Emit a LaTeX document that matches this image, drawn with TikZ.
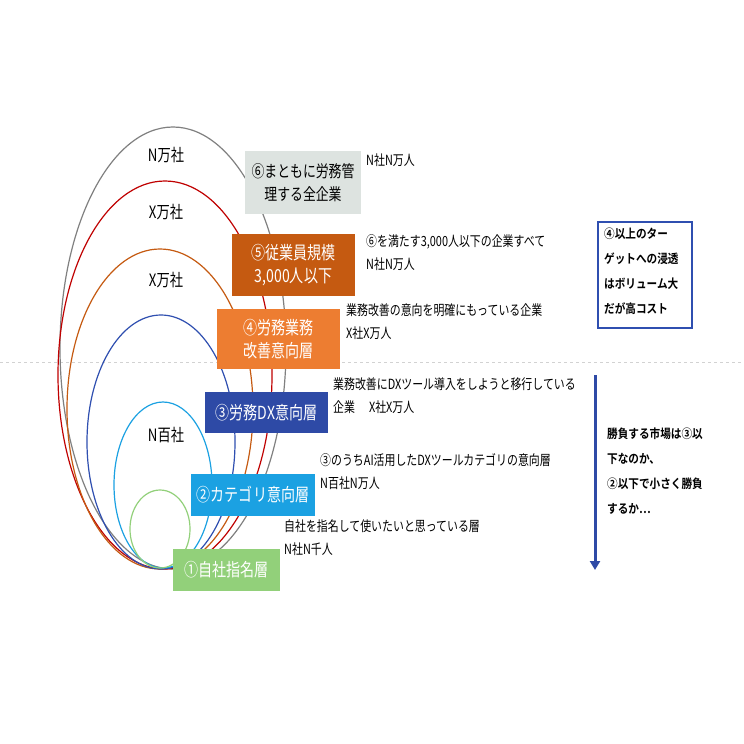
\documentclass[tikz,border=0pt]{standalone}
\usepackage{fontspec}
\setmainfont{Noto Sans CJK JP}[FakeStretch=0.78]
\newfontfamily\bfj{Noto Sans CJK JP Bold}[FakeStretch=0.85]
\usetikzlibrary{arrows.meta}
\definecolor{cgray}{HTML}{808080}
\definecolor{cred}{HTML}{C00000}
\definecolor{corg}{HTML}{C55A11}
\definecolor{cblue}{HTML}{2F4FB0}
\definecolor{clb}{HTML}{1BA1E2}
\definecolor{cgr}{HTML}{92D07A}
\definecolor{b6}{HTML}{DDE3E0}
\definecolor{b5}{HTML}{C55A11}
\definecolor{b4}{HTML}{ED7D31}
\definecolor{b3}{HTML}{2E4AA6}
\definecolor{b2}{HTML}{1BA1E2}
\definecolor{b1}{HTML}{92D07A}
\begin{document}
\begin{tikzpicture}[x=1pt,y=-1pt,
 lay/.style={draw=none,inner sep=0pt,align=center,font=\fontsize{18}{23}\selectfont,text=white},
 desc/.style={anchor=north west,inner sep=0pt,align=left,font=\fontsize{14}{23}\selectfont},
 cnt/.style={inner sep=0pt,font=\fontsize{17}{18}\selectfont}]
\useasboundingbox (0,0) rectangle (744,744);
\fill[white] (0,0) rectangle (744,744);
\draw[gray!35,dashed,line width=1pt] (0,362) -- (744,362);
\draw[cgray,line width=1.2pt] (173,348) ellipse [x radius=113,y radius=221];
\draw[cred,line width=1.2pt] (165,375) ellipse [x radius=107,y radius=194];
\draw[corg,line width=1.2pt] (160,409) ellipse [x radius=93,y radius=160];
\draw[cblue,line width=1.2pt] (161,442) ellipse [x radius=74,y radius=127];
\draw[clb,line width=1.2pt] (163,485) ellipse [x radius=49,y radius=83];
\draw[cgr,line width=1.2pt] (160,529) ellipse [x radius=30,y radius=39];
\node[cnt] (c1) at (166,155) {N万社};
\node[cnt] (c2) at (166,212) {X万社};
\node[cnt] (c3) at (166,280) {X万社};
\node[cnt] (c4) at (166,435) {N百社};
\fill[b6] (245,151) rectangle (361,214);
\node[lay,text=black,font=\fontsize{16.5}{23}\selectfont] (l6) at (303,182.5) {⑥まともに労務管\\理する全企業};
\fill[b5] (232,234) rectangle (355,296);
\node[lay] (l5) at (293.5,265) {⑤従業員規模\\3,000人以下};
\fill[b4] (217,309) rectangle (340,369);
\node[lay] (l4) at (278.5,339) {④労務業務\\改善意向層};
\fill[b3] (205,392) rectangle (328,433);
\node[lay] (l3) at (266.5,412.5) {③労務DX意向層};
\fill[b2] (191,474) rectangle (315,516);
\node[lay] (l2) at (253,495) {②カテゴリ意向層};
\fill[b1] (173,549) rectangle (280,591);
\node[lay] (l1) at (226.5,570) {①自社指名層};
\node[desc] (d6) at (366,154) {N社N万人};
\node[desc] (d5) at (366,234) {⑥を満たす3,000人以下の企業すべて\\N社N万人};
\node[desc] (d4) at (346,303) {業務改善の意向を明確にもっている企業\\X社X万人};
\node[desc] (d3) at (333,378) {業務改善にDXツール導入をしようと移行している\\企業\quad X社X万人};
\node[desc] (d2) at (320,453) {③のうちAI活用したDXツールカテゴリの意向層\\N百社N万人};
\node[desc] (d1) at (284,519) {自社を指名して使いたいと思っている層\\N社N千人};
\draw[cblue,line width=1.3pt] (598,222) rectangle (692,328);
\node[anchor=north west,inner sep=0pt,align=left,font=\bfj\fontsize{12.5}{25}\selectfont] (r1) at (604,228) {④以上のター\\ゲットへの浸透\\はボリューム大\\だが高コスト};
\coordinate (a1) at (595,375);
\coordinate (a2) at (595,570);
\draw[b3,line width=3pt,-{Triangle[length=9pt,width=10pt]}] (a1) -- (a2);
\node[anchor=north west,inner sep=0pt,align=left,font=\bfj\fontsize{12.5}{25}\selectfont] (r2) at (607,428) {勝負する市場は③以\\下なのか、\\②以下で小さく勝負\\するか…};
\end{tikzpicture}
\end{document}
